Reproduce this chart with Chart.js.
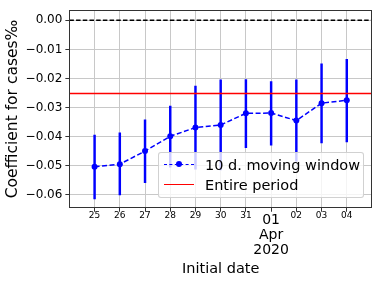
<!DOCTYPE html>
<html>
<head>
<meta charset="utf-8">
<script src="https://cdn.jsdelivr.net/npm/chart.js@4.4.1/dist/chart.umd.min.js"></script>
<style>
  html, body { margin: 0; padding: 0; background: #fff; }
  #wrap { position: relative; width: 382px; height: 283px; }
  #legend {
    position: absolute; left: 158px; top: 152px; width: 204px; height: 44px;
    background: rgba(255,255,255,0.8); border: 1px solid rgba(204,204,204,0.9);
    border-radius: 3px; font-family: 'DejaVu Sans', sans-serif; font-size: 14.5px; color: #000;
  }
  .entry { position: absolute; left: 0; height: 20px; line-height: 20px; white-space: nowrap; }
  .sample { position: absolute; left: 5px; width: 30px; top: 10px; height: 0; }
  .txt { position: absolute; left: 46px; top: 0; }
  .dash { border-top: 1.5px dashed #0000ff; top: 9px; }
  .dot { position: absolute; left: 12px; top: -4px; width: 6px; height: 6px; border-radius: 50%; background: #0000ff; }
  .solid { border-top: 1.5px solid #ff0000; top: 9px; }
</style>
</head>
<body>
<div id="wrap">
  <canvas id="c" width="382" height="283"></canvas>
  <div id="legend">
    <div class="entry" style="top:2px;"><div class="sample dash"><div class="dot"></div></div><span class="txt">10 d. moving window</span></div>
    <div class="entry" style="top:22px;"><div class="sample solid"></div><span class="txt">Entire period</span></div>
  </div>
</div>
<script>
// ---- data ----
const XTICK_LABELS = ['25', '26', '27', '28', '29', '30', '31', ['01', 'Apr', '2020'], '02', '03', '04'];
const COEF     = [-0.0504, -0.0495, -0.0450, -0.0399, -0.0369, -0.0360, -0.0320, -0.0319, -0.0345, -0.0285, -0.0275];
const ERR_LOW  = [-0.0615, -0.0601, -0.0559, -0.0505, -0.0512, -0.0515, -0.0438, -0.0430, -0.0485, -0.0422, -0.0418];
const ERR_HIGH = [-0.0395, -0.0387, -0.0342, -0.0295, -0.0226, -0.0205, -0.0204, -0.0211, -0.0205, -0.0150, -0.0134];
const ENTIRE_PERIOD = -0.0252;
const ZERO_LINE = 0;
const Y_TICKS = [0.00, -0.01, -0.02, -0.03, -0.04, -0.05, -0.06];

const FONT = 'DejaVu Sans';
const X_MIN = -1, X_MAX = XTICK_LABELS.length;

const framePlugin = {
  id: 'frame',
  afterDraw(chart) {
    const {ctx, chartArea: a} = chart;
    ctx.save();
    ctx.strokeStyle = '#333';
    ctx.lineWidth = 1;
    ctx.strokeRect(Math.round(a.left) + 0.5, Math.round(a.top) + 0.5,
                   Math.round(a.right - a.left) - 1, Math.round(a.bottom - a.top) - 1);
    ctx.restore();
  }
};

new Chart(document.getElementById('c'), {
  type: 'line',
  data: {
    datasets: [
      {
        type: 'line', label: 'Entire period', order: 0,
        data: [{x: X_MIN, y: ENTIRE_PERIOD}, {x: X_MAX, y: ENTIRE_PERIOD}],
        borderColor: '#ff0000', borderWidth: 1.5, pointRadius: 0
      },
      {
        type: 'line', label: '10 d. moving window', order: 1,
        data: COEF.map((y, i) => ({x: i, y})),
        borderColor: '#0000ff', borderWidth: 1.5, borderDash: [5, 2.5],
        pointRadius: 3, pointBackgroundColor: '#0000ff', pointBorderWidth: 0, tension: 0
      },
      {
        type: 'bar', label: 'err', order: 2,
        data: COEF.map((_, i) => ({x: i, y: [ERR_LOW[i], ERR_HIGH[i]]})),
        backgroundColor: '#0000ff', borderWidth: 0, barThickness: 1.8
      },
      {
        type: 'line', label: 'zero', order: 3,
        data: [{x: X_MIN, y: ZERO_LINE}, {x: X_MAX, y: ZERO_LINE}],
        borderColor: '#000000', borderWidth: 1.5, borderDash: [4.5, 2.2], pointRadius: 0
      }
    ]
  },
  options: {
    responsive: false,
    devicePixelRatio: 1,
    animation: false,
    layout: { padding: { left: 0, top: 8, right: 10, bottom: 4 } },
    plugins: { legend: { display: false }, tooltip: { enabled: false } },
    scales: {
      x: {
        type: 'linear', min: X_MIN, max: X_MAX, offset: false,
        afterBuildTicks: (scale) => { scale.ticks = XTICK_LABELS.map((_, i) => ({value: i})); },
        grid: { color: '#c8c8c8', lineWidth: 1, tickColor: '#333', tickLength: 4, offset: false },
        border: { display: false },
        ticks: {
          autoSkip: false, maxRotation: 0, minRotation: 0, padding: 1, color: '#000',
          callback: (v) => XTICK_LABELS[v],
          font: (ctx) => (ctx.tick && ctx.tick.value === 7)
            ? {family: FONT, size: 14, lineHeight: 1.08}
            : {family: FONT, size: 9, lineHeight: 0.7}
        },
        title: { display: true, text: 'Initial date', color: '#000',
                 font: {family: FONT, size: 14.5}, padding: {top: 1.5, bottom: 1} }
      },
      y: {
        type: 'linear', min: -0.0645, max: 0.0035,
        afterBuildTicks: (scale) => { scale.ticks = Y_TICKS.map(v => ({value: v})); },
        grid: { color: '#c8c8c8', lineWidth: 1, tickColor: '#333', tickLength: 4 },
        border: { display: false },
        ticks: {
          padding: 3, color: '#000', font: {family: FONT, size: 12},
          callback: (v) => Math.abs(v) < 1e-9 ? '0.00' : (v < 0 ? '\u2212' : '') + Math.abs(v).toFixed(2)
        },
        title: { display: true, text: 'Coefficient for cases\u2030', color: '#000',
                 font: {family: FONT, size: 15.5}, padding: {top: 4, bottom: 0} }
      }
    }
  },
  plugins: [framePlugin]
});
</script>
</body>
</html>
